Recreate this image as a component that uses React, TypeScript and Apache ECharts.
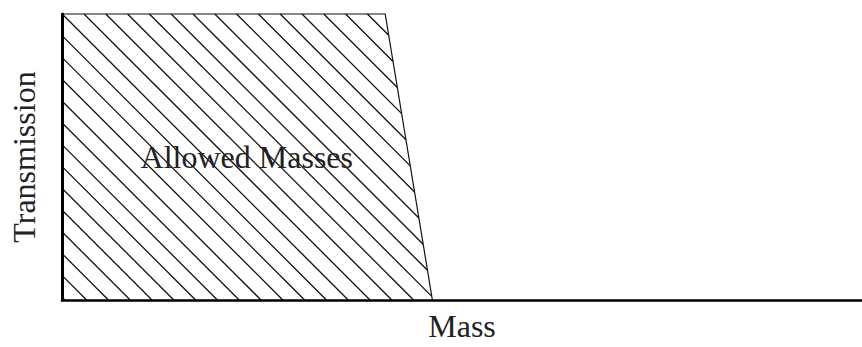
import React, { useEffect, useRef } from "react";
import * as echarts from "echarts";

// Passband outline: mass (arbitrary units) vs transmission (0..1)
const passbandMass = [0, 0, 40.4, 46.3];
const passbandTransmission = [0, 1, 1, 0];
const massRange = [0, 100];
const transmissionRange = [0, 1];

// Label for the hatched region, anchored in data coordinates
const regionLabel = "Allowed Masses";
const regionLabelAt = [23.1, 0.5];

const xAxisTitle = "Mass";
const yAxisTitle = "Transmission";

const SERIF = '"Liberation Serif", "Times New Roman", serif';
const INK = "#111";

type Pt = number[];

// Clip the line y = x + c against a convex polygon (pixel space)
function clipDiagonal(poly: Pt[], c: number): Pt[] | null {
  const hits: Pt[] = [];
  for (let i = 0; i < poly.length; i++) {
    const a = poly[i];
    const b = poly[(i + 1) % poly.length];
    const fa = a[1] - a[0] - c;
    const fb = b[1] - b[0] - c;
    if (fa === fb) continue;
    if ((fa <= 0 && fb >= 0) || (fa >= 0 && fb <= 0)) {
      const t = fa / (fa - fb);
      hits.push([a[0] + t * (b[0] - a[0]), a[1] + t * (b[1] - a[1])]);
    }
  }
  if (hits.length < 2) return null;
  hits.sort((p, q) => p[0] - q[0]);
  return [hits[0], hits[hits.length - 1]];
}

export default function App() {
  const ref = useRef<HTMLDivElement>(null);

  useEffect(() => {
    if (!ref.current) return;
    const chart = echarts.init(ref.current, null, { renderer: "svg" });

    const renderItem = (_params: any, api: any) => {
      const poly: Pt[] = passbandMass.map((m, i) =>
        api.coord([m, passbandTransmission[i]])
      );
      const xs = poly.map((p) => p[0]);
      const ys = poly.map((p) => p[1]);
      const minX = Math.min(...xs);
      const maxX = Math.max(...xs);
      const minY = Math.min(...ys);
      const maxY = Math.max(...ys);

      const spacing = 21.8;
      const cStart = minY - minX;
      const cLo = minY - maxX;
      const cHi = maxY - minX;
      const children: any[] = [];

      const kLo = Math.floor((cLo - cStart) / spacing);
      const kHi = Math.ceil((cHi - cStart) / spacing);
      for (let k = kLo; k <= kHi; k++) {
        const seg = clipDiagonal(poly, cStart + k * spacing - 0.2);
        if (!seg) continue;
        children.push({
          type: "line",
          shape: { x1: seg[0][0], y1: seg[0][1], x2: seg[1][0], y2: seg[1][1] },
          style: { stroke: INK, lineWidth: 1.3 },
        });
      }

      // top and falling edges of the passband
      children.push({
        type: "polyline",
        shape: { points: poly.slice(1) },
        style: { stroke: INK, lineWidth: 1.2, fill: null },
      });

      const labelPos = api.coord(regionLabelAt);
      children.push({
        type: "text",
        x: labelPos[0],
        y: labelPos[1],
        style: {
          text: regionLabel,
          fontFamily: SERIF,
          fontSize: 32,
          fill: "#222",
          align: "center",
          verticalAlign: "middle",
        },
      });

      return { type: "group", children };
    };

    chart.setOption({
      animation: false,
      grid: { left: 60, right: 0, top: 14, bottom: 45, containLabel: false },
      xAxis: {
        type: "value",
        min: massRange[0],
        max: massRange[1],
        z: 5,
        name: xAxisTitle,
        nameLocation: "middle",
        nameGap: 10,
        nameTextStyle: { fontFamily: SERIF, fontSize: 32, color: "#222" },
        axisLine: { show: true, lineStyle: { color: "#000", width: 2.5 } },
        axisTick: { show: false },
        axisLabel: { show: false },
        splitLine: { show: false },
      },
      yAxis: {
        type: "value",
        min: transmissionRange[0],
        max: transmissionRange[1],
        z: 5,
        name: yAxisTitle,
        nameLocation: "middle",
        nameRotate: 90,
        nameGap: 22,
        nameTextStyle: { fontFamily: SERIF, fontSize: 32, color: "#222" },
        axisLine: { show: true, lineStyle: { color: "#000", width: 3 } },
        axisTick: { show: false },
        axisLabel: { show: false },
        splitLine: { show: false },
      },
      series: [
        {
          type: "custom",
          renderItem,
          data: [0],
          silent: true,
          clip: false,
        },
      ],
    });

    return () => chart.dispose();
  }, []);

  return (
    <div
      ref={ref}
      style={{ position: "fixed", left: 0, top: 0, width: 862, height: 347, background: "#fff" }}
    />
  );
}
